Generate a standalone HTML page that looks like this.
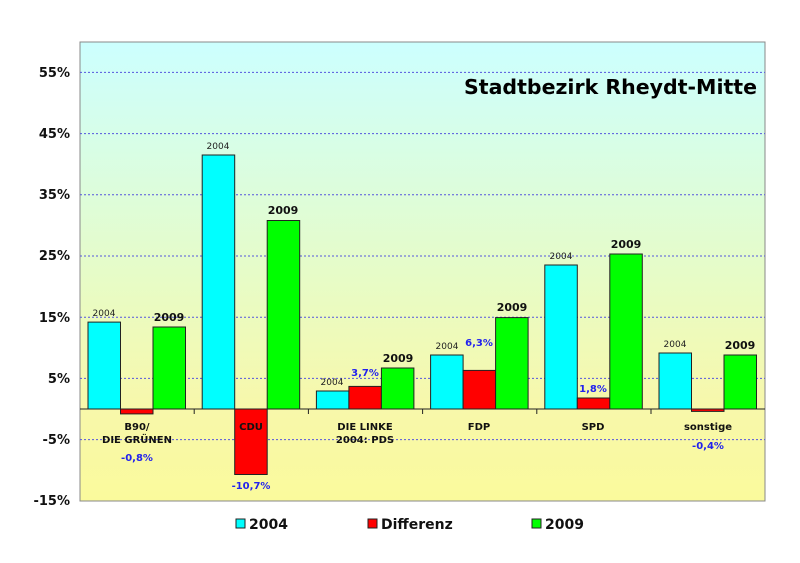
<!DOCTYPE html>
<html><head><meta charset="utf-8"><style>
body{margin:0;background:#fff}
svg{display:block;font-family:"DejaVu Sans","Liberation Sans",sans-serif}
</style></head><body>
<svg width="800" height="563" viewBox="0 0 800 563">
<defs>
<linearGradient id="bg" x1="0" y1="0" x2="0" y2="1">
<stop offset="0" stop-color="#ccffff"/>
<stop offset="0.5" stop-color="#e6fcc8"/>
<stop offset="0.8" stop-color="#f8f8aa"/>
<stop offset="1" stop-color="#fafa9c"/>
</linearGradient>
</defs>
<rect x="80" y="42" width="685" height="459" fill="url(#bg)" stroke="#888" stroke-width="1"/>
<g stroke="#5555dd" stroke-width="1" stroke-dasharray="2,2">
<line x1="80" y1="72.4" x2="765" y2="72.4"/>
<line x1="80" y1="133.6" x2="765" y2="133.6"/>
<line x1="80" y1="194.8" x2="765" y2="194.8"/>
<line x1="80" y1="256" x2="765" y2="256"/>
<line x1="80" y1="317.2" x2="765" y2="317.2"/>
<line x1="80" y1="378.4" x2="765" y2="378.4"/>
<line x1="80" y1="439.6" x2="765" y2="439.6"/>
</g>
<g font-size="13" font-weight="bold" fill="#111" text-anchor="end">
<text x="70" y="77">55%</text><text x="70" y="138">45%</text><text x="70" y="199">35%</text>
<text x="70" y="260">25%</text><text x="70" y="322">15%</text><text x="70" y="383">5%</text>
<text x="70" y="444">-5%</text><text x="70" y="505">-15%</text>
</g>
<text x="757" y="94" font-size="20" font-weight="bold" text-anchor="end" fill="#000" textLength="293" lengthAdjust="spacingAndGlyphs">Stadtbezirk Rheydt-Mitte</text>
<g stroke="#222" stroke-width="1">
<rect x="88" y="322.1" width="32.5" height="86.9" fill="#00ffff"/>
<rect x="120.5" y="409" width="32.5" height="4.9" fill="#ff0000"/>
<rect x="153" y="327" width="32.5" height="82" fill="#00ff00"/>
<rect x="202.2" y="155" width="32.5" height="254" fill="#00ffff"/>
<rect x="234.7" y="409" width="32.5" height="65.5" fill="#ff0000"/>
<rect x="267.2" y="220.5" width="32.5" height="188.5" fill="#00ff00"/>
<rect x="316.4" y="391" width="32.5" height="18" fill="#00ffff"/>
<rect x="348.9" y="386.4" width="32.5" height="22.6" fill="#ff0000"/>
<rect x="381.4" y="368" width="32.5" height="41" fill="#00ff00"/>
<rect x="430.6" y="355" width="32.5" height="54" fill="#00ffff"/>
<rect x="463.1" y="370.4" width="32.5" height="38.6" fill="#ff0000"/>
<rect x="495.6" y="317.6" width="32.5" height="91.4" fill="#00ff00"/>
<rect x="544.8" y="265" width="32.5" height="144" fill="#00ffff"/>
<rect x="577.3" y="398" width="32.5" height="11" fill="#ff0000"/>
<rect x="609.8" y="254" width="32.5" height="155" fill="#00ff00"/>
<rect x="659" y="353" width="32.5" height="56" fill="#00ffff"/>
<rect x="691.5" y="409" width="32.5" height="2.4" fill="#ff0000"/>
<rect x="724" y="355" width="32.5" height="54" fill="#00ff00"/>
</g>
<line x1="80" y1="409" x2="765" y2="409" stroke="#222" stroke-width="1"/>
<g stroke="#222"><line x1="194.2" y1="409" x2="194.2" y2="414"/><line x1="308.4" y1="409" x2="308.4" y2="414"/><line x1="422.6" y1="409" x2="422.6" y2="414"/><line x1="536.8" y1="409" x2="536.8" y2="414"/><line x1="651" y1="409" x2="651" y2="414"/></g>
<g font-size="9" fill="#222" text-anchor="middle">
<text x="104" y="316">2004</text><text x="218" y="149">2004</text><text x="332" y="385">2004</text>
<text x="447" y="349">2004</text><text x="561" y="259">2004</text><text x="675" y="347">2004</text>
</g>
<g font-size="11" font-weight="bold" fill="#111" text-anchor="middle">
<text x="169" y="321">2009</text><text x="283" y="214">2009</text><text x="398" y="362">2009</text>
<text x="512" y="311">2009</text><text x="626" y="248">2009</text><text x="740" y="349">2009</text>
</g>
<g font-size="10" font-weight="bold" fill="#2222ee" text-anchor="middle">
<text x="137" y="461">-0,8%</text><text x="251" y="489">-10,7%</text><text x="365" y="376">3,7%</text>
<text x="479" y="346">6,3%</text><text x="593" y="392">1,8%</text><text x="708" y="449">-0,4%</text>
</g>
<g font-size="10" font-weight="bold" fill="#111" text-anchor="middle">
<text x="137" y="430">B90/</text><text x="137" y="443">DIE GRÜNEN</text>
<text x="251" y="430">CDU</text>
<text x="365" y="430">DIE LINKE</text><text x="365" y="443">2004: PDS</text>
<text x="479" y="430">FDP</text><text x="593" y="430">SPD</text><text x="708" y="430">sonstige</text>
</g>
<g stroke="#222"><rect x="236" y="519" width="9" height="9" fill="#00ffff"/><rect x="368" y="519" width="9" height="9" fill="#ff0000"/><rect x="532" y="519" width="9" height="9" fill="#00ff00"/></g>
<g font-size="14" font-weight="bold" fill="#111">
<text x="249" y="529">2004</text><text x="381" y="529">Differenz</text><text x="545" y="529">2009</text>
</g>
</svg>
</body></html>
